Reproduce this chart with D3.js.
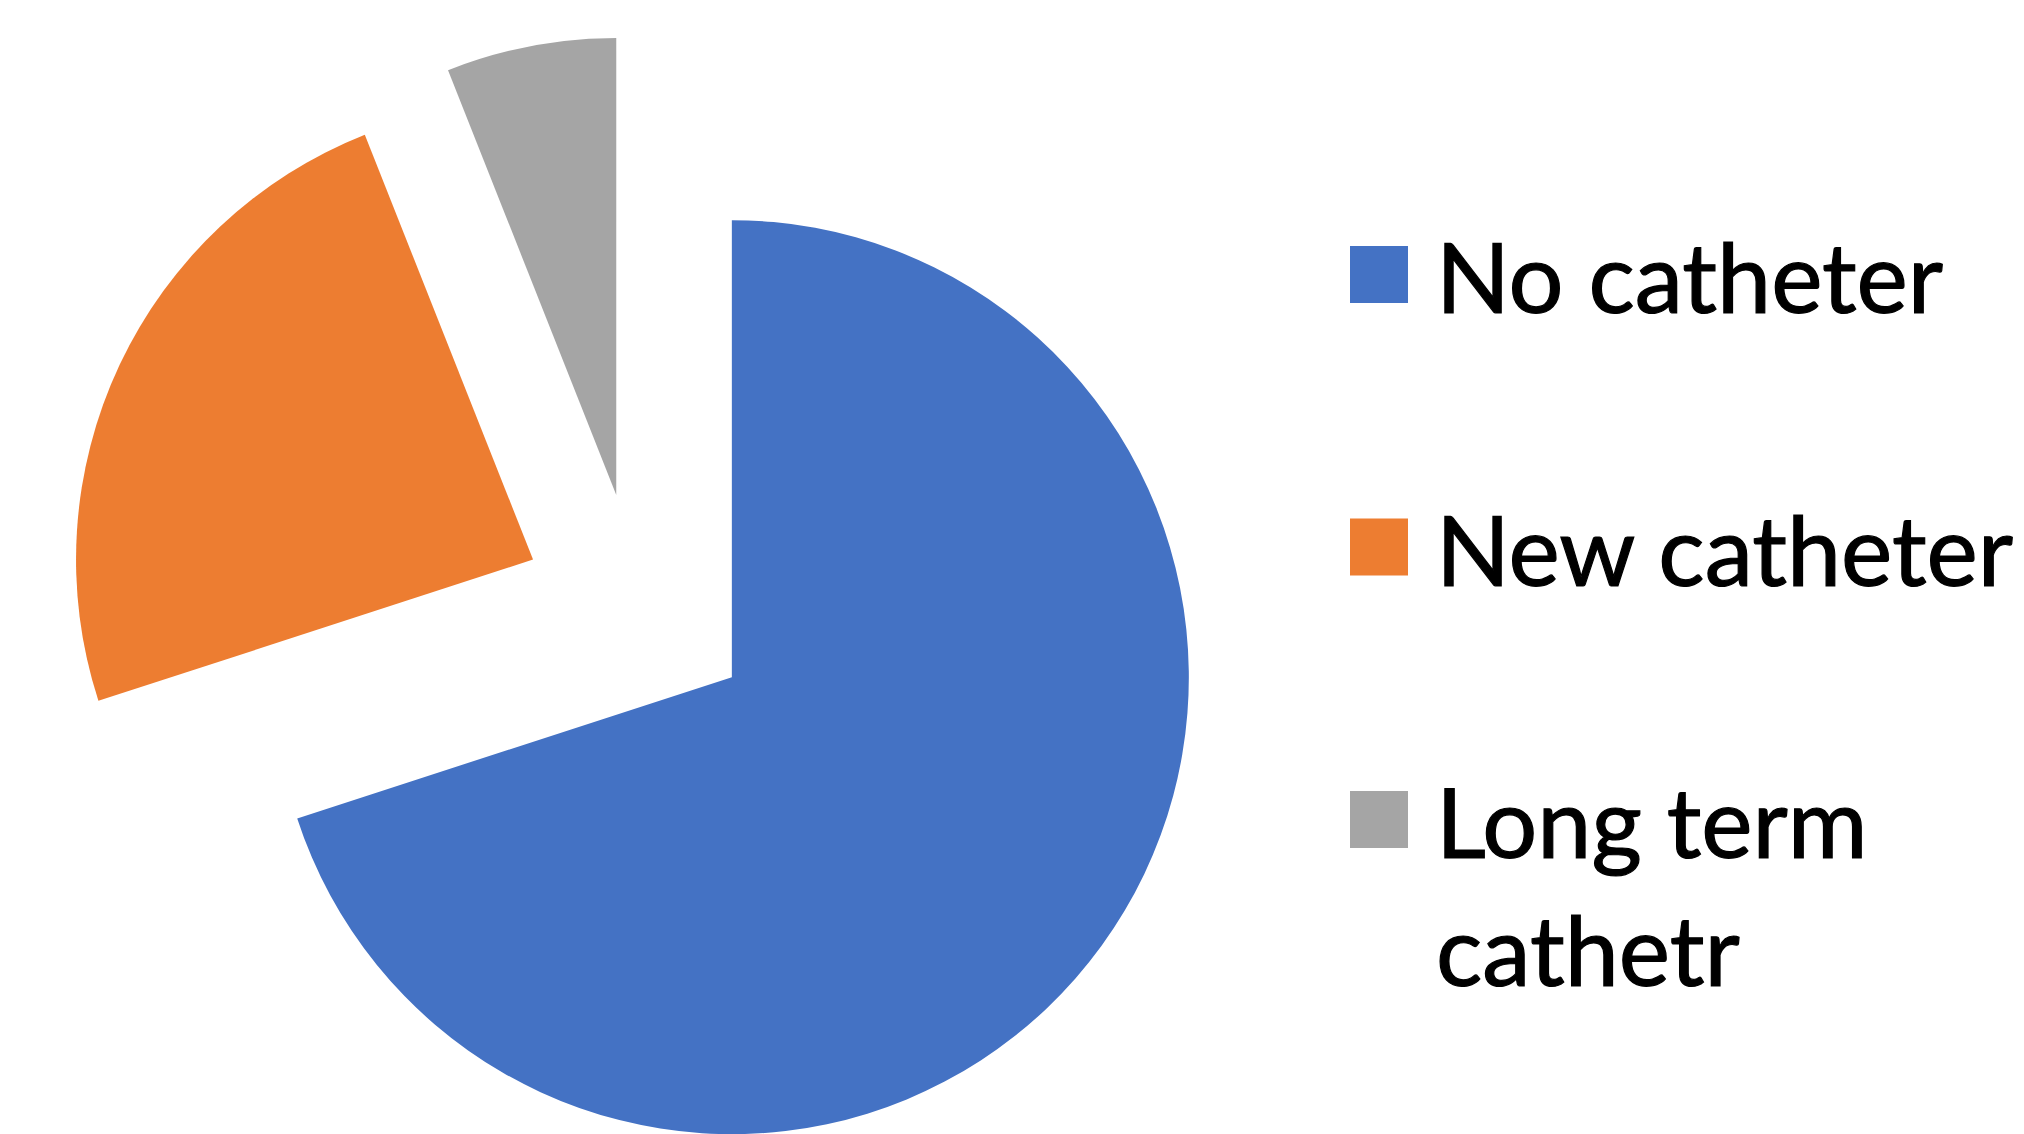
<!DOCTYPE html>
<html>
<head>
<meta charset="utf-8">
<script src="https://cdn.jsdelivr.net/npm/d3@7"></script>
<style>
  html, body { margin: 0; padding: 0; background: #ffffff; }
  svg { display: block; }
</style>
</head>
<body>
<div id="chart-area"></div>
<script>
const categories = ['No catheter', 'New catheter', 'Long term cathetr'];
const values = [70, 24, 6];
const colors = ['#4472C4', '#ED7D31', '#A5A5A5'];

const widthSvg = 2024;
const heightSvg = 1134;
const center = { x: 638, y: 609 };
const radius = 457;
const explode = 116;

const svg = d3.select('#chart-area').append('svg')
  .attr('width', widthSvg)
  .attr('height', heightSvg);

svg.append('rect')
  .attr('width', widthSvg)
  .attr('height', heightSvg)
  .attr('fill', '#ffffff');

const data = categories.map((c, i) => ({ name: c, value: values[i], color: colors[i] }));

const pie = d3.pie()
  .sort(null)
  .value(d => d.value);

const arc = d3.arc()
  .innerRadius(0)
  .outerRadius(radius);

const chart = svg.append('g')
  .attr('transform', `translate(${center.x}, ${center.y})`);

// every slice pulled out along its own mid angle
chart.selectAll('path')
  .data(pie(data))
  .enter()
  .append('path')
    .attr('d', arc)
    .attr('fill', d => d.data.color)
    .attr('transform', d => {
      const mid = (d.startAngle + d.endAngle) / 2;
      return `translate(${explode * Math.sin(mid)}, ${-explode * Math.cos(mid)})`;
    });

// legend
const legendX = 1350;
const legendTop = 246;
const legendStep = 272.5;
const swatch = 57;
const fontSize = 97;
const lineHeight = 128;
const textX = 86;
const textY = 67;
const maxTextWidth = widthSvg - legendX - textX;

const legend = svg.append('g');

const rows = legend.selectAll('g')
  .data(data)
  .enter()
  .append('g')
    .attr('transform', (d, i) => `translate(${legendX}, ${legendTop + i * legendStep})`);

rows.append('rect')
  .attr('width', 58)
  .attr('height', swatch)
  .attr('fill', d => d.color);

rows.each(function(d) {
  const text = d3.select(this).append('text')
    .attr('x', textX)
    .attr('y', textY)
    .attr('font-family', 'Lato, "Open Sans", sans-serif')
    .attr('font-size', fontSize + 'px')
    .attr('fill', '#000000')
    .attr('stroke', '#000000')
    .attr('stroke-width', 1.2);

  // simple word wrap
  const words = d.name.split(' ');
  let line = [];
  let lineNo = 0;
  let tspan = text.append('tspan').attr('x', textX).attr('y', textY);
  words.forEach(w => {
    line.push(w);
    tspan.text(line.join(' '));
    if (tspan.node().getComputedTextLength() > maxTextWidth && line.length > 1) {
      line.pop();
      tspan.text(line.join(' '));
      line = [w];
      lineNo += 1;
      tspan = text.append('tspan')
        .attr('x', textX)
        .attr('y', textY + lineNo * lineHeight)
        .text(w);
    }
  });
});
</script>
</body>
</html>
